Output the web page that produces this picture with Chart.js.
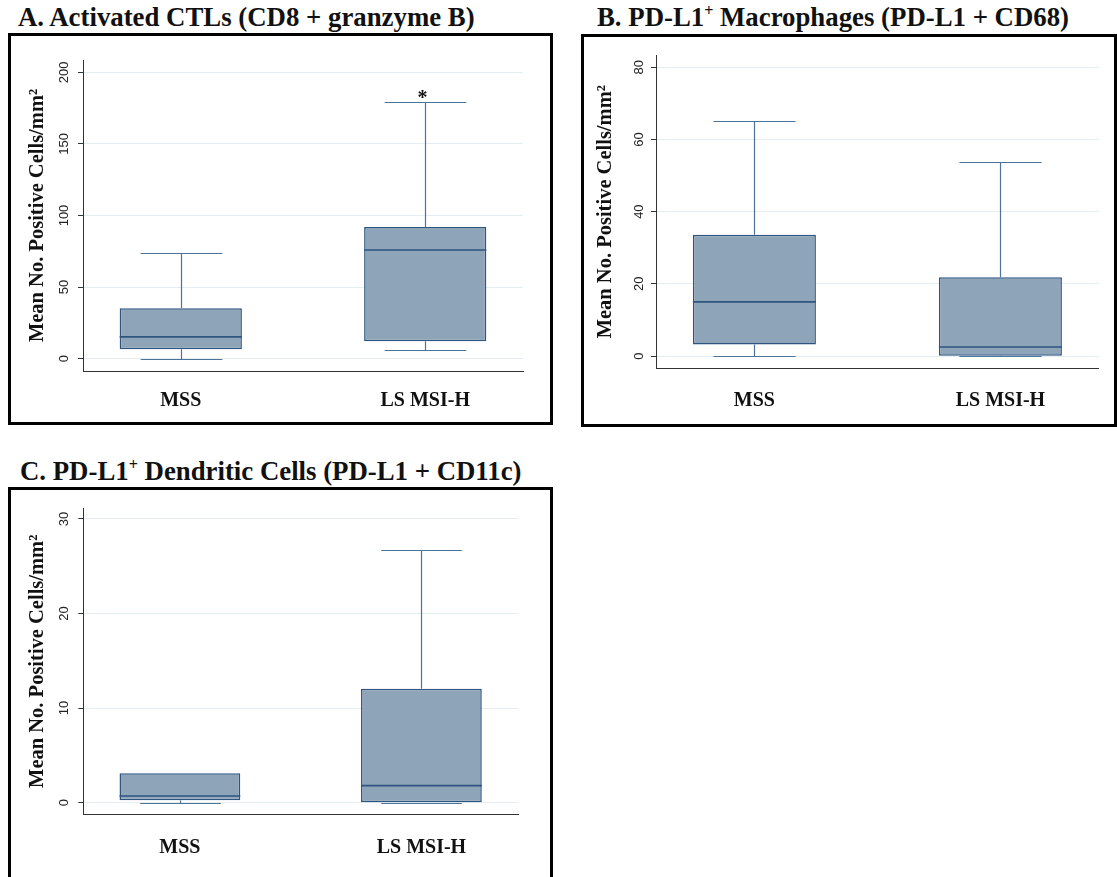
<!DOCTYPE html>
<html><head><meta charset="utf-8">
<script src="https://cdn.jsdelivr.net/npm/chart.js@4.4.0/dist/chart.umd.min.js"></script>
<style>
html,body{margin:0;padding:0;background:#fff;width:1117px;height:877px;overflow:hidden;position:relative;}
.title{position:absolute;font-family:'Liberation Serif','Times New Roman',serif;font-weight:bold;font-size:26.8px;line-height:27px;color:#111;white-space:nowrap;}
.title sup{font-size:0.6em;line-height:0;vertical-align:0.6em;}
.frame{position:absolute;border:3px solid #000;box-sizing:border-box;}
canvas{position:absolute;}
</style></head><body>
<div class="title" style="left:18px;top:4px">A. Activated CTLs (CD8 + granzyme B)</div>
<div class="title" style="left:597px;top:4px">B. PD-L1<sup>+</sup> Macrophages (PD-L1 + CD68)</div>
<div class="title" style="left:20px;top:458px">C. PD-L1<sup>+</sup> Dendritic Cells (PD-L1 + CD11c)</div>
<div class="frame" style="left:8px;top:33px;width:545px;height:392px"></div>
<div class="frame" style="left:581px;top:34px;width:536px;height:393px"></div>
<div class="frame" style="left:8px;top:487px;width:545px;height:400px"></div>
<canvas id="cA" width="539" height="386" style="left:11px;top:36px"></canvas>
<canvas id="cB" width="530" height="387" style="left:584px;top:37px"></canvas>
<canvas id="cC" width="539" height="390" style="left:11px;top:490px"></canvas>
<script>
// ---- data ----
const categories = ['MSS', 'LS MSI-H'];
const catPos = [1, 2];
const aMin = [0, 6.1],  aQ1 = [6.6, 12.1], aMed = [15.2, 75.9], aQ3 = [35.2, 92.0], aMax = [73.8, 179.3];
const bMin = [0, 0],    bQ1 = [3.2, 0.1],  bMed = [15.0, 2.5],  bQ3 = [33.6, 21.8], bMax = [65.1, 53.8];
const cMin = [0, 0],    cQ1 = [0.25, 0.0], cMed = [0.7, 1.8],   cQ3 = [3.1, 12.05], cMax = [3.1, 26.7];
const aTicks = [0, 50, 100, 150, 200];
const bTicks = [0, 20, 40, 60, 80];
const cTicks = [0, 10, 20, 30];
const aSignif = ['', '*'];
const bSignif = ['', ''];
const cSignif = ['', ''];
const yTitle = 'Mean No. Positive Cells/mm\u00B2';

// ---- styles ----
const FILL = '#8EA4B9';
const STROKE = '#2E5480';
const WHISK = '#4C7399';

const boxPlugin = {
  id: 'boxExtras',
  afterDatasetsDraw(chart, args, o) {
    const ctx = chart.ctx, x = chart.scales.x, y = chart.scales.y;
    const meta = chart.getDatasetMeta(0);
    ctx.save();
    const ln = (x1, y1, x2, y2) => { ctx.beginPath(); ctx.moveTo(x1, y1); ctx.lineTo(x2, y2); ctx.stroke(); };
    for (let i = 0; i < categories.length; i++) {
      const cx = Math.round(x.getPixelForValue(catPos[i])) + 0.5;
      const capHalf = x.getPixelForValue(catPos[i] + o.capHalf) - x.getPixelForValue(catPos[i]);
      const bar = meta.data[i];
      const bh = bar.width / 2;
      const yq1 = y.getPixelForValue(o.q1[i]), yq3 = y.getPixelForValue(o.q3[i]);
      const ymin = Math.round(y.getPixelForValue(o.min[i])) + 0.5, ymax = Math.round(y.getPixelForValue(o.max[i])) + 0.5;
      const ymed = y.getPixelForValue(o.med[i]);
      ctx.strokeStyle = WHISK; ctx.lineWidth = 1.2;
      if (o.max[i] > o.q3[i]) { ln(cx, yq3, cx, ymax); ln(cx - capHalf, ymax, cx + capHalf, ymax); }
      if (o.min[i] < o.q1[i]) { ln(cx, yq1, cx, ymin); }
      ln(cx - capHalf, ymin, cx + capHalf, ymin);
      ctx.strokeStyle = STROKE; ctx.lineWidth = 1.6;
      ln(bar.x - bh, ymed, bar.x + bh, ymed);
      if (o.signif[i]) {
        ctx.fillStyle = '#111';
        ctx.font = 'bold 20px "Liberation Serif"';
        ctx.textAlign = 'center'; ctx.textBaseline = 'alphabetic';
        ctx.fillText(o.signif[i], cx - 3, ymax + 1);
      }
    }
    ctx.restore();
  }
};

function makePanel(id, st, ticks, cfg) {
  return new Chart(document.getElementById(id), {
    type: 'bar',
    data: {
      datasets: [{
        data: categories.map((c, i) => ({ x: catPos[i], y: [st.q1[i], st.q3[i]] })),
        backgroundColor: FILL, borderColor: STROKE, borderWidth: 1.5, borderSkipped: false,
        barPercentage: 0.5, categoryPercentage: 1
      }]
    },
    options: {
      responsive: false, animation: false, devicePixelRatio: 1,
      layout: { padding: { left: 0, top: cfg.top, right: cfg.right, bottom: 0 } },
      plugins: { legend: { display: false }, tooltip: { enabled: false }, boxExtras: Object.assign({ capHalf: 0.167 }, st) },
      scales: {
        x: {
          type: 'linear', min: 0.6, max: 2.4, offset: false, bounds: 'data',
          afterBuildTicks: s => { s.ticks = catPos.map(v => ({ value: v })); },
          ticks: {
            callback: v => categories[catPos.indexOf(v)],
            font: { family: 'Liberation Serif', weight: 'bold', size: 20 }, color: '#111',
            padding: cfg.xPad, maxRotation: 0, autoSkip: false
          },
          grid: { display: false, drawTicks: false, offset: false },
          border: { display: true, color: '#333', width: 1 },
          afterFit: s => { s.height = cfg.xH; }
        },
        y: {
          min: cfg.ymin, max: cfg.ymax,
          afterBuildTicks: s => { s.ticks = ticks.map(v => ({ value: v })); },
          ticks: {
            minRotation: 90, maxRotation: 90, crossAlign: 'center', padding: cfg.yPad,
            font: { family: 'Liberation Sans', size: 13 }, color: '#222', autoSkip: false
          },
          grid: { color: '#E4EDF0', tickColor: '#333', tickLength: 5, drawTicks: true, lineWidth: 1 },
          border: { color: '#333', width: 1 },
          title: {
            display: true, text: yTitle, color: '#111',
            font: { family: 'Liberation Serif', weight: 'bold', size: 20.5 },
            padding: { top: cfg.tPad, bottom: 0 }
          },
          afterFit: s => { s.width = cfg.yW; }
        }
      }
    },
    plugins: [boxPlugin]
  });
}

makePanel('cA', { min: aMin, q1: aQ1, med: aMed, q3: aQ3, max: aMax, signif: aSignif }, aTicks,
  { top: 24, right: 27, xH: 51, yW: 72, ymin: -8.6, ymax: 208.6, yPad: 3, tPad: 14.6, xPad: 18 });
makePanel('cB', { min: bMin, q1: bQ1, med: bMed, q3: bQ3, max: bMax, signif: bSignif }, bTicks,
  { top: 18, right: 15.2, xH: 55.5, yW: 72, ymin: -3.46, ymax: 83.4, yPad: 4.75, tPad: 9.6, xPad: 20.5 });
makePanel('cC', { min: cMin, q1: cQ1, med: cMed, q3: cQ3, max: cMax, signif: cSignif }, cTicks,
  { top: 18.3, right: 32, xH: 65.7, yW: 72.3, ymin: -1.23, ymax: 31.13, yPad: 6.25, tPad: 14.6, xPad: 21.7 });
</script>
</body></html>
